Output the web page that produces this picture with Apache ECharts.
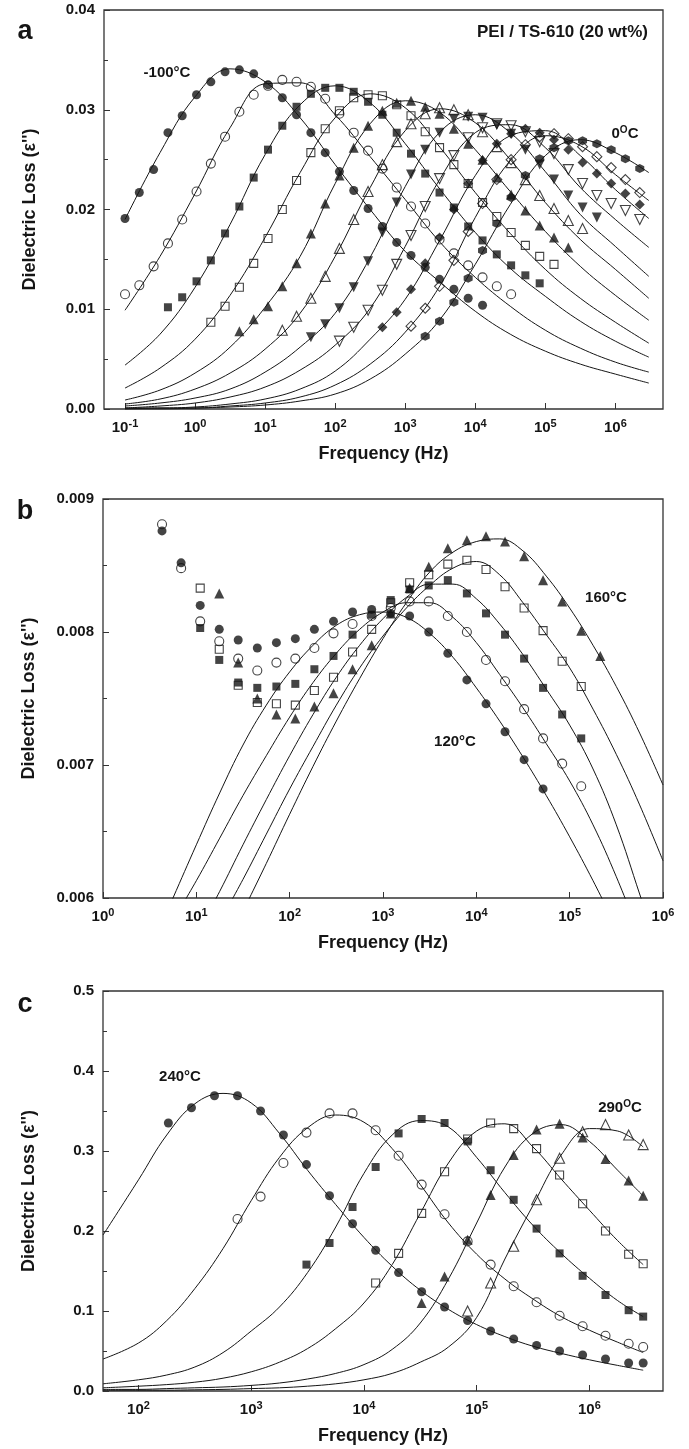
<!DOCTYPE html>
<html>
<head>
<meta charset="utf-8">
<script src="https://cdn.jsdelivr.net/npm/echarts@6/dist/echarts.min.js"></script>
<style>
html, body { margin: 0; padding: 0; background: #fff; }
#chart { width: 689px; height: 1449px; }
</style>
</head>
<body>
<div id="chart"></div>
<script>
// Measurement frequencies (Hz) of the dielectric sweeps (5 points per decade, plus 3 MHz)
const FREQ = [0.1, 0.16, 0.256, 0.41, 0.655, 1.05, 1.68, 2.68, 4.29, 6.87, 11.0, 17.6, 28.1, 45.0, 72.1,
  115, 184, 295, 472, 756, 1210, 1930, 3090, 4950, 7920, 12700, 20300, 32500, 51900, 83100,
  133000, 213000, 340000, 544000, 871000, 1390000, 2230000, 3000000];

// ---- (a) PEI / TS-610 (20 wt%), -100 °C ... 0 °C ----
// index of the first measured frequency for each temperature
const A_START = [0, 0, 3, 6, 8, 11, 13, 15, 18, 20, 21];
const A_N100 = [0.0191, 0.0217, 0.0240, 0.0277, 0.0294, 0.0315, 0.0328, 0.0338, 0.0340, 0.0336, 0.0325, 0.0312, 0.0295, 0.0277, 0.0257, 0.0238, 0.0219, 0.0201, 0.0183, 0.0167, 0.0154, 0.0142, 0.0130, 0.0120, 0.0111, 0.0104];
const A_N90 = [0.0115, 0.0124, 0.0143, 0.0166, 0.0190, 0.0218, 0.0246, 0.0273, 0.0298, 0.0315, 0.0324, 0.0330, 0.0328, 0.0323, 0.0311, 0.0296, 0.0277, 0.0259, 0.0241, 0.0222, 0.0203, 0.0186, 0.0170, 0.0156, 0.0144, 0.0132, 0.0123, 0.0115];
const A_N80 = [0.0102, 0.0112, 0.0128, 0.0149, 0.0176, 0.0203, 0.0232, 0.0260, 0.0284, 0.0303, 0.0316, 0.0322, 0.0322, 0.0318, 0.0308, 0.0295, 0.0277, 0.0256, 0.0236, 0.0217, 0.0202, 0.0183, 0.0169, 0.0155, 0.0144, 0.0134, 0.0126];
const A_N70 = [0.0087, 0.0103, 0.0122, 0.0146, 0.0171, 0.0200, 0.0229, 0.0257, 0.0281, 0.0299, 0.0312, 0.0315, 0.0314, 0.0305, 0.0294, 0.0278, 0.0262, 0.0245, 0.0226, 0.0207, 0.0193, 0.0177, 0.0164, 0.0153, 0.0145];
const A_N60 = [0.0078, 0.0090, 0.0103, 0.0123, 0.0146, 0.0176, 0.0206, 0.0234, 0.0262, 0.0284, 0.0299, 0.0307, 0.0309, 0.0303, 0.0296, 0.0281, 0.0266, 0.0250, 0.0232, 0.0215, 0.0199, 0.0184, 0.0172, 0.0162];
const A_N50 = [0.0079, 0.0093, 0.0111, 0.0133, 0.0161, 0.0190, 0.0218, 0.0245, 0.0268, 0.0286, 0.0296, 0.0302, 0.0300, 0.0295, 0.0278, 0.0263, 0.0247, 0.0230, 0.0214, 0.0201, 0.0189, 0.0181];
const A_N40 = [0.0072, 0.0085, 0.0101, 0.0122, 0.0148, 0.0177, 0.0207, 0.0235, 0.0260, 0.0277, 0.0291, 0.0293, 0.0292, 0.0285, 0.0276, 0.0260, 0.0245, 0.0230, 0.0214, 0.0202, 0.0192];
const A_N30 = [0.0068, 0.0082, 0.0099, 0.0119, 0.0145, 0.0174, 0.0203, 0.0231, 0.0254, 0.0272, 0.0282, 0.0286, 0.0284, 0.0278, 0.0268, 0.0256, 0.0240, 0.0226, 0.0214, 0.0206, 0.0199, 0.0190];
const A_N20 = [0.0082, 0.0097, 0.0120, 0.0146, 0.0172, 0.0200, 0.0226, 0.0249, 0.0266, 0.0276, 0.0281, 0.0277, 0.0270, 0.0260, 0.0247, 0.0236, 0.0226, 0.0216, 0.0205];
const A_N10 = [0.0083, 0.0101, 0.0123, 0.0149, 0.0178, 0.0206, 0.0230, 0.0250, 0.0265, 0.0273, 0.0276, 0.0271, 0.0263, 0.0253, 0.0242, 0.0230, 0.0217];
const A_P0 = [0.0073, 0.0088, 0.0107, 0.0131, 0.0159, 0.0186, 0.0212, 0.0234, 0.0251, 0.0262, 0.0269, 0.0269, 0.0266, 0.0260, 0.0251, 0.0241];

// fitted relaxation curves for (a)
const A_FIT_FREQ = [0.1, 0.316, 1, 3.16, 10, 31.6, 100, 316, 1000, 3160, 10000, 31600, 100000, 316000, 1000000, 3000000];
const A_FIT_N100 = [0.0190, 0.0257, 0.0313, 0.0341, 0.0328, 0.0292, 0.0245, 0.0200, 0.0158, 0.0127, 0.0098, 0.0075, 0.0058, 0.0045, 0.0035, 0.0026];
const A_FIT_N90 = [0.0099, 0.0153, 0.0216, 0.0282, 0.0326, 0.0327, 0.0295, 0.0253, 0.0210, 0.0167, 0.0132, 0.0103, 0.0079, 0.0061, 0.0047, 0.0037];
const A_FIT_N80 = [0.0044, 0.0075, 0.0122, 0.0185, 0.0255, 0.0305, 0.0324, 0.0307, 0.0266, 0.0220, 0.0177, 0.0141, 0.0113, 0.0088, 0.0068, 0.0052];
const A_FIT_N70 = [0.0021, 0.0041, 0.0070, 0.0114, 0.0172, 0.0237, 0.0292, 0.0316, 0.0302, 0.0262, 0.0217, 0.0176, 0.0140, 0.0111, 0.0087, 0.0066];
const A_FIT_N60 = [0.0009, 0.0019, 0.0036, 0.0062, 0.0102, 0.0153, 0.0226, 0.0286, 0.0309, 0.0297, 0.0260, 0.0218, 0.0178, 0.0143, 0.0114, 0.0089];
const A_FIT_N50 = [0.0005, 0.0010, 0.0020, 0.0036, 0.0060, 0.0096, 0.0153, 0.0222, 0.0279, 0.0301, 0.0287, 0.0250, 0.0207, 0.0170, 0.0140, 0.0111];
const A_FIT_N40 = [0.0003, 0.0006, 0.0011, 0.0020, 0.0037, 0.0062, 0.0096, 0.0152, 0.0223, 0.0278, 0.0295, 0.0277, 0.0238, 0.0195, 0.0163, 0.0133];
const A_FIT_N30 = [0.0001, 0.0003, 0.0006, 0.0012, 0.0022, 0.0039, 0.0064, 0.0101, 0.0163, 0.0231, 0.0277, 0.0285, 0.0262, 0.0222, 0.0190, 0.0162];
const A_FIT_N20 = [0.0001, 0.0001, 0.0002, 0.0005, 0.0010, 0.0020, 0.0038, 0.0070, 0.0110, 0.0170, 0.0234, 0.0274, 0.0279, 0.0254, 0.0220, 0.0191];
const A_FIT_N10 = [0.0000, 0.0001, 0.0001, 0.0003, 0.0006, 0.0012, 0.0024, 0.0045, 0.0077, 0.0124, 0.0192, 0.0249, 0.0274, 0.0264, 0.0235, 0.0209];
const A_FIT_P0 = [0.0000, 0.0000, 0.0001, 0.0002, 0.0004, 0.0008, 0.0015, 0.0030, 0.0055, 0.0090, 0.0145, 0.0205, 0.0254, 0.0270, 0.0257, 0.0237];

// ---- (b) 120 °C ... 160 °C ----
const B_START = [8, 8, 10, 10, 11];
const B_120 = [0.00876, 0.00852, 0.00820, 0.00802, 0.00794, 0.00788, 0.00792, 0.00795, 0.00802, 0.00808, 0.00815, 0.00817, 0.00814, 0.00812, 0.00800, 0.00784, 0.00764, 0.00746, 0.00725, 0.00704, 0.00682];
const B_130 = [0.00881, 0.00848, 0.00808, 0.00793, 0.00780, 0.00771, 0.00777, 0.00780, 0.00788, 0.00799, 0.00806, 0.00812, 0.00818, 0.00823, 0.00823, 0.00812, 0.00800, 0.00779, 0.00763, 0.00742, 0.00720, 0.00701, 0.00684];
const B_140 = [0.00803, 0.00779, 0.00762, 0.00758, 0.00759, 0.00761, 0.00772, 0.00782, 0.00798, 0.00813, 0.00824, 0.00832, 0.00835, 0.00839, 0.00829, 0.00814, 0.00798, 0.00780, 0.00758, 0.00738, 0.00720];
const B_150 = [0.00833, 0.00787, 0.00760, 0.00747, 0.00746, 0.00745, 0.00756, 0.00766, 0.00785, 0.00802, 0.00822, 0.00837, 0.00843, 0.00851, 0.00854, 0.00847, 0.00834, 0.00818, 0.00801, 0.00778, 0.00759];
const B_160 = [0.00829, 0.00777, 0.00750, 0.00738, 0.00735, 0.00744, 0.00754, 0.00772, 0.00790, 0.00814, 0.00833, 0.00849, 0.00863, 0.00869, 0.00872, 0.00868, 0.00857, 0.00839, 0.00823, 0.00801, 0.00782];

const B_FIT_FREQ = [3.16, 5.62, 10, 17.8, 31.6, 56.2, 100, 178, 316, 562, 1000, 1780, 3160, 5620, 10000, 17800, 31600, 56200, 100000, 178000, 316000, 562000, 1000000];
const B_FIT_120 = [0.00560, 0.00600, 0.00640, 0.00679, 0.00715, 0.00745, 0.00770, 0.00790, 0.00805, 0.00813, 0.00815, 0.00811, 0.00799, 0.00781, 0.00758, 0.00733, 0.00706, 0.00677, 0.00646, 0.00613, 0.00578, null, null];
const B_FIT_130 = [null, 0.00583, 0.00613, 0.00645, 0.00677, 0.00707, 0.00736, 0.00762, 0.00784, 0.00802, 0.00815, 0.00822, 0.00822, 0.00811, 0.00792, 0.00768, 0.00743, 0.00716, 0.00688, 0.00655, 0.00616, 0.00572, null];
const B_FIT_140 = [null, null, 0.00572, 0.00605, 0.00640, 0.00674, 0.00707, 0.00738, 0.00766, 0.00790, 0.00810, 0.00826, 0.00836, 0.00836, 0.00825, 0.00806, 0.00783, 0.00757, 0.00730, 0.00697, 0.00655, 0.00603, 0.00550];
const B_FIT_150 = [null, null, null, 0.00582, 0.00614, 0.00648, 0.00682, 0.00714, 0.00745, 0.00773, 0.00797, 0.00818, 0.00835, 0.00848, 0.00853, 0.00843, 0.00822, 0.00798, 0.00773, 0.00742, 0.00708, 0.00670, 0.00628];
const B_FIT_160 = [null, null, null, null, 0.00590, 0.00626, 0.00663, 0.00699, 0.00733, 0.00765, 0.00795, 0.00822, 0.00845, 0.00860, 0.00868, 0.00870, 0.00861, 0.00842, 0.00818, 0.00790, 0.00759, 0.00724, 0.00685];

// ---- (c) 240 °C ... 290 °C ----
const C_START = [16, 19, 22, 25, 27, 29];
const C_240 = [0.335, 0.354, 0.369, 0.369, 0.350, 0.320, 0.283, 0.244, 0.209, 0.176, 0.148, 0.124, 0.105, 0.088, 0.075, 0.065, 0.057, 0.050, 0.045, 0.040, 0.035, 0.035];
const C_250 = [0.215, 0.243, 0.285, 0.323, 0.347, 0.347, 0.326, 0.294, 0.258, 0.221, 0.187, 0.158, 0.131, 0.111, 0.094, 0.081, 0.069, 0.059, 0.055];
const C_260 = [0.158, 0.185, 0.230, 0.280, 0.322, 0.340, 0.335, 0.312, 0.276, 0.239, 0.203, 0.172, 0.144, 0.120, 0.101, 0.093];
const C_270 = [0.135, 0.172, 0.222, 0.274, 0.315, 0.335, 0.328, 0.303, 0.270, 0.234, 0.200, 0.171, 0.159];
const C_280 = [0.110, 0.143, 0.189, 0.245, 0.295, 0.327, 0.334, 0.317, 0.290, 0.263, 0.244];
const C_290 = [0.100, 0.135, 0.181, 0.239, 0.291, 0.324, 0.333, 0.320, 0.308];

const C_FIT_FREQ = [48.5, 100, 178, 316, 562, 1000, 1780, 3160, 5620, 10000, 17800, 31600, 56200, 100000, 178000, 316000, 562000, 1000000, 1780000, 3000000];
const C_FIT_240 = [0.195, 0.264, 0.320, 0.359, 0.372, 0.360, 0.322, 0.276, 0.233, 0.192, 0.156, 0.126, 0.102, 0.083, 0.068, 0.056, 0.047, 0.039, 0.032, 0.026];
const C_FIT_250 = [0.040, 0.060, 0.088, 0.128, 0.178, 0.238, 0.292, 0.329, 0.345, 0.336, 0.303, 0.258, 0.210, 0.171, 0.140, 0.115, 0.093, 0.076, 0.061, 0.048];
const C_FIT_260 = [0.009, 0.014, 0.020, 0.030, 0.048, 0.075, 0.105, 0.148, 0.205, 0.272, 0.320, 0.338, 0.330, 0.292, 0.248, 0.207, 0.172, 0.141, 0.113, 0.093];
const C_FIT_270 = [0.004, 0.006, 0.008, 0.011, 0.016, 0.024, 0.036, 0.053, 0.078, 0.110, 0.158, 0.222, 0.285, 0.325, 0.334, 0.305, 0.265, 0.226, 0.188, 0.158];
const C_FIT_280 = [0.002, 0.002, 0.003, 0.004, 0.005, 0.007, 0.010, 0.015, 0.022, 0.033, 0.052, 0.085, 0.140, 0.210, 0.280, 0.322, 0.333, 0.312, 0.276, 0.244];
const C_FIT_290 = [0.001, 0.001, 0.001, 0.0015, 0.002, 0.003, 0.004, 0.006, 0.009, 0.014, 0.022, 0.036, 0.055, 0.092, 0.165, 0.232, 0.295, 0.328, 0.325, 0.305];

// decade tick positions (log10 of frequency) for each panel
const A_DECADES = [-1, 0, 1, 2, 3, 4, 5, 6];
const B_DECADES = [0, 1, 2, 3, 4, 5, 6];
const C_DECADES = [2, 3, 4, 5, 6];

// ---------------------------------------------------------------
const FONT = '"Liberation Sans", Arial, Helvetica, sans-serif';
const INK = '#151515';
const HEX = 'path://M5,0L9.33,2.5L9.33,7.5L5,10L0.67,7.5L0.67,2.5Z';

// marker cycle: ● ○ ■ □ ▲ △ ▼ ▽ ◆ ◇ ⬢
const MARKS = [
  { symbol: 'circle', size: 9, fill: true },
  { symbol: 'circle', size: 9, fill: false },
  { symbol: 'rect', size: 8, fill: true },
  { symbol: 'rect', size: 8, fill: false },
  { symbol: 'triangle', size: 10, fill: true },
  { symbol: 'triangle', size: 10, fill: false },
  { symbol: 'triangle', size: 10, fill: true, rot: 180 },
  { symbol: 'triangle', size: 10, fill: false, rot: 180 },
  { symbol: 'diamond', size: 10, fill: true },
  { symbol: 'diamond', size: 10, fill: false },
  { symbol: HEX, size: 9, fill: true }
];

function points(freq, vals, start) {
  const out = [];
  vals.forEach((v, i) => {
    if (v !== null && v !== undefined) out.push([Math.log10(freq[start + i]), v]);
  });
  return out;
}

const series = [];
function addCurve(gi, fitFreq, fitVals, vals, start, mark) {
  series.push({
    type: 'line', xAxisIndex: gi, yAxisIndex: gi,
    data: points(fitFreq, fitVals, 0),
    showSymbol: false, symbol: 'none', smooth: 0.4, clip: true,
    lineStyle: { color: INK, width: 1 }, z: 2, silent: true
  });
  series.push({
    type: 'scatter', xAxisIndex: gi, yAxisIndex: gi,
    data: points(FREQ, vals, start),
    symbol: mark.symbol, symbolSize: mark.size, symbolRotate: mark.rot || 0,
    itemStyle: mark.fill
      ? { color: INK }
      : { color: 'rgba(255,255,255,0)', borderColor: INK, borderWidth: 1.1 },
    z: 3, silent: true
  });
}

const A_LOSS = [A_N100, A_N90, A_N80, A_N70, A_N60, A_N50, A_N40, A_N30, A_N20, A_N10, A_P0];
const A_FITS = [A_FIT_N100, A_FIT_N90, A_FIT_N80, A_FIT_N70, A_FIT_N60, A_FIT_N50, A_FIT_N40, A_FIT_N30, A_FIT_N20, A_FIT_N10, A_FIT_P0];
A_LOSS.forEach((v, i) => addCurve(0, A_FIT_FREQ, A_FITS[i], v, A_START[i], MARKS[i]));

const B_LOSS = [B_120, B_130, B_140, B_150, B_160];
const B_FITS = [B_FIT_120, B_FIT_130, B_FIT_140, B_FIT_150, B_FIT_160];
B_LOSS.forEach((v, i) => addCurve(1, B_FIT_FREQ, B_FITS[i], v, B_START[i], MARKS[i]));

const C_LOSS = [C_240, C_250, C_260, C_270, C_280, C_290];
const C_FITS = [C_FIT_240, C_FIT_250, C_FIT_260, C_FIT_270, C_FIT_280, C_FIT_290];
C_LOSS.forEach((v, i) => addCurve(2, C_FIT_FREQ, C_FITS[i], v, C_START[i], MARKS[i]));

const labelRich = {
  b: { fontFamily: FONT, fontSize: 15, fontWeight: 'bold', color: INK },
  s: { fontFamily: FONT, fontSize: 11, fontWeight: 'bold', color: INK, padding: [0, 0, 8, 0] }
};

function xAxis(gi, min, max, decades) {
  return {
    gridIndex: gi, type: 'value', min: min, max: max,
    axisLine: { show: false, onZero: false },
    splitLine: { show: false },
    axisTick: { show: true, inside: true, length: 6, customValues: decades, lineStyle: { color: '#333', width: 1 } },
    axisLabel: {
      customValues: decades, margin: 9,
      formatter: v => '{b|10}{s|' + Math.round(v) + '}',
      rich: labelRich
    },
    name: 'Frequency (Hz)', nameLocation: 'middle', nameGap: 36,
    nameTextStyle: { fontFamily: FONT, fontSize: 18, fontWeight: 'bold', color: INK }
  };
}

function yAxis(gi, min, max, step, digits) {
  return {
    gridIndex: gi, type: 'value', min: min, max: max, interval: step,
    axisLine: { show: false, onZero: false },
    splitLine: { show: false },
    axisTick: { show: true, inside: true, length: 6, lineStyle: { color: '#333', width: 1 } },
    minorTick: { show: true, splitNumber: 2, length: 4, lineStyle: { color: '#333', width: 1 } },
    axisLabel: {
      margin: 9, formatter: v => v.toFixed(digits),
      fontFamily: FONT, fontSize: 15, fontWeight: 'bold', color: INK
    },
    name: "Dielectric Loss (ε'')", nameLocation: 'middle', nameRotate: 90, nameGap: 65,
    nameTextStyle: { fontFamily: FONT, fontSize: 18, fontWeight: 'bold', color: INK }
  };
}

const gridBase = { show: true, borderColor: '#333', borderWidth: 1.3, backgroundColor: 'rgba(0,0,0,0)', containLabel: false, outerBoundsMode: 'none' };

function txt(x, y, text, size, align, rich) {
  return {
    type: 'text', x: x, y: y, silent: true,
    style: {
      text: text, fill: INK, font: 'bold ' + size + 'px ' + FONT,
      align: align || 'center', verticalAlign: 'middle', rich: rich
    }
  };
}
const supRich = { s: { fontFamily: FONT, fontSize: 10, fontWeight: 'bold', fill: INK, padding: [0, 0, 7, 0] } };

const option = {
  animation: false,
  backgroundColor: '#fff',
  grid: [
    Object.assign({ left: 104, right: 26, top: 10, height: 399 }, gridBase),
    Object.assign({ left: 103, right: 26, top: 499, height: 399 }, gridBase),
    Object.assign({ left: 103, right: 26, top: 991, height: 400 }, gridBase)
  ],
  xAxis: [
    xAxis(0, -1.3, 6.68, A_DECADES),
    xAxis(1, 0, 6, B_DECADES),
    xAxis(2, 1.685, 6.653, C_DECADES)
  ],
  yAxis: [
    yAxis(0, 0, 0.04, 0.01, 2),
    yAxis(1, 0.006, 0.009, 0.001, 3),
    yAxis(2, 0, 0.5, 0.1, 1)
  ],
  series: series,
  graphic: [
    txt(25, 32, 'a', 27),
    txt(25, 512, 'b', 27),
    txt(25, 1005, 'c', 27),
    txt(648, 32, 'PEI / TS-610 (20 wt%)', 17, 'right'),
    txt(167, 73, '-100°C', 15),
    txt(625, 134, '0{s|O}C', 15, 'center', supRich),
    txt(606, 598, '160°C', 15),
    txt(455, 742, '120°C', 15),
    txt(180, 1077, '240°C', 15),
    txt(620, 1108, '290{s|O}C', 15, 'center', supRich)
  ]
};

const chart = echarts.init(document.getElementById('chart'), null, { renderer: 'canvas' });
chart.setOption(option);
</script>
</body>
</html>
